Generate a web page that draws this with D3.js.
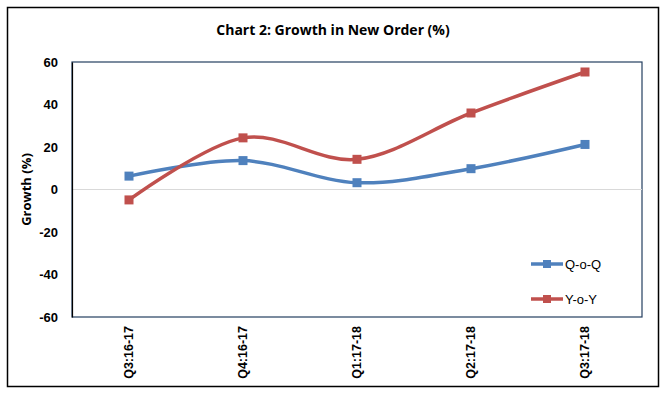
<!DOCTYPE html>
<html><head><meta charset="utf-8">
<script src="https://cdn.jsdelivr.net/npm/d3@7"></script>
<style>body{margin:0;background:#fff}svg{display:block}</style>
</head><body><svg id="c" width="667" height="393"></svg>
<script>
const categories = ["Q3:16-17","Q4:16-17","Q1:17-18","Q2:17-18","Q3:17-18"];
const qoq = [6.3, 13.6, 3.2, 9.8, 21.2];
const yoy = [-4.9, 24.3, 14.2, 36.0, 55.3];
const yTicks = [-60,-40,-20,0,20,40,60];
const seriesNames = ["Q-o-Q","Y-o-Y"];
const colors = ["#4f81bd","#c0504d"];

const svg = d3.select("#c");
const m = {l:72, r:642, t:62, b:317};

svg.append("rect").attr("x",7.5).attr("y",7.5).attr("width",651).attr("height",379)
  .attr("fill","#fff").attr("stroke","#000").attr("stroke-width",1.5);

svg.append("text").attr("x",333).attr("y",35).attr("text-anchor","middle")
  .attr("font-family","Open Sans, sans-serif").attr("font-weight","bold").attr("font-size",14)
  .attr("fill","#000").text("Chart 2: Growth in New Order (%)");

const x = d3.scaleBand().domain(categories).range([m.l, m.r]);
const y = d3.scaleLinear().domain([-60,60]).range([m.b, m.t]);

svg.append("rect").attr("x",m.l).attr("y",m.t).attr("width",m.r-m.l).attr("height",m.b-m.t)
  .attr("fill","none").attr("stroke","#243f60").attr("stroke-width",1.2);

svg.append("line").attr("x1",m.l).attr("x2",m.r).attr("y1",y(0)).attr("y2",y(0))
  .attr("stroke","#d9d9d9").attr("stroke-width",1.2);

const ya = svg.append("g").attr("transform",`translate(${m.l},0)`)
  .call(d3.axisLeft(y).tickValues(yTicks).tickFormat(d=>String(d)).tickSize(0).tickPadding(14));
ya.select(".domain").attr("stroke","#000").attr("stroke-width",1.2);
ya.selectAll("text").attr("font-family","Liberation Sans, Arial, sans-serif")
  .attr("font-weight","bold").attr("font-size",13).attr("fill","#000");

const xa = svg.append("g").attr("transform",`translate(0,${m.b})`)
  .call(d3.axisBottom(x).tickSize(0));
xa.select(".domain").remove();
xa.selectAll("text").attr("font-family","Liberation Sans, Arial, sans-serif")
  .attr("font-weight","bold").attr("font-size",12.5).attr("fill","#000")
  .attr("transform","rotate(-90)").attr("text-anchor","end")
  .attr("x",-9).attr("y",0).attr("dy","0.35em");

svg.append("text").attr("transform",`translate(31,${(m.t+m.b)/2}) rotate(-90)`)
  .attr("text-anchor","middle").attr("font-family","Open Sans, sans-serif")
  .attr("font-weight","bold").attr("font-size",13).attr("fill","#000").text("Growth (%)");

const line = d3.line().x((d,i)=>x(categories[i])+x.bandwidth()/2).y(d=>y(d))
  .curve(d3.curveCatmullRom.alpha(0));
[qoq, yoy].forEach((s,k)=>{
  svg.append("path").datum(s).attr("d",line).attr("fill","none")
    .attr("stroke",colors[k]).attr("stroke-width",3.5);
  svg.selectAll(null).data(s).enter().append("rect")
    .attr("x",(d,i)=>x(categories[i])+x.bandwidth()/2-4.5).attr("y",d=>y(d)-4.5)
    .attr("width",9).attr("height",9).attr("fill",colors[k]);
});

const lgY = [264, 299];
seriesNames.forEach((n,k)=>{
  const ly = lgY[k];
  svg.append("line").attr("x1",531).attr("x2",563).attr("y1",ly).attr("y2",ly)
    .attr("stroke",colors[k]).attr("stroke-width",3.5);
  svg.append("rect").attr("x",543).attr("y",ly-4).attr("width",8).attr("height",8).attr("fill",colors[k]);
  svg.append("text").attr("x",565).attr("y",ly).attr("dy","0.35em")
    .attr("font-family","Liberation Sans, Arial, sans-serif").attr("font-size",13)
    .attr("fill","#000").text(n);
});
</script></body></html>
